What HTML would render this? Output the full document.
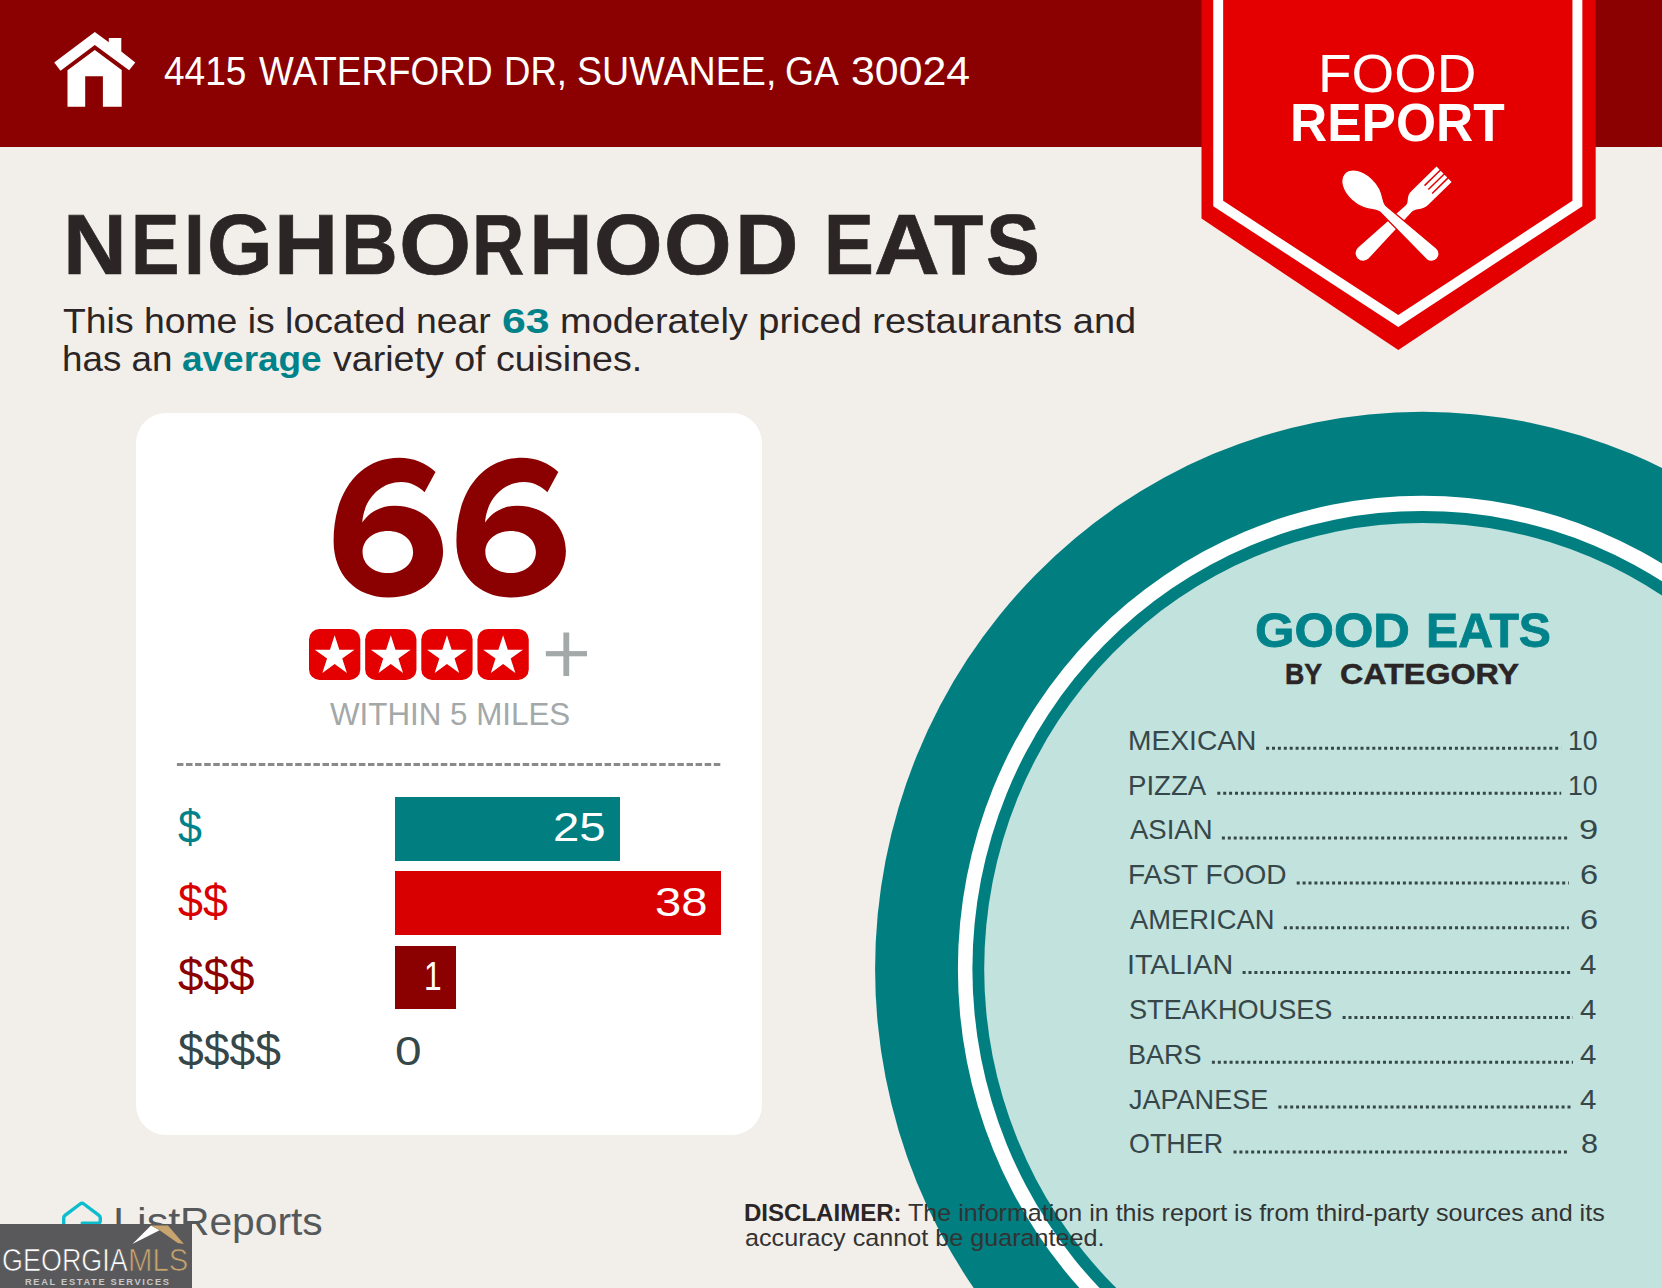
<!DOCTYPE html>
<html lang="en">
<head>
<meta charset="utf-8">
<title>Food Report - Neighborhood Eats</title>
<style>
  html, body { margin: 0; padding: 0; }
  body {
    width: 1662px; height: 1288px; overflow: hidden; position: relative;
    background: #f2eee9;
    font-family: "Liberation Sans", sans-serif;
    color: #2b2526;
  }
  .t { position: absolute; white-space: nowrap; line-height: 1; transform-origin: 0 0; }
  #header { position: absolute; left: 0; top: 0; width: 1662px; height: 146.8px; background: #8b0000; }
  #card { position: absolute; left: 135.8px; top: 413.4px; width: 626.6px; height: 721.5px; background: #fff; border-radius: 30px; }
  .bar { position: absolute; left: 395px; }
  svg { position: absolute; left: 0; top: 0; overflow: visible; }
  #mlsbox { position: absolute; left: 0; top: 1224.3px; width: 191.8px; height: 64px; background: #59595b; }
</style>
</head>
<body>
<!-- plate circles -->
<svg width="1662" height="1288" viewBox="0 0 1662 1288">
  <ellipse cx="1422.3" cy="968.9" rx="547.2" ry="557.2" fill="#007e80"/>
  <ellipse cx="1422.3" cy="968.9" rx="464.4" ry="473.2" fill="#ffffff"/>
  <ellipse cx="1422.3" cy="968.9" rx="449.9" ry="458" fill="#007e80"/>
  <ellipse cx="1422.3" cy="968.9" rx="438.1" ry="446" fill="#c1e2dd"/>
</svg>
<div id="header"></div>
<!-- house icon + badge -->
<svg width="1662" height="1288" viewBox="0 0 1662 1288">
  <g fill="#fff">
    <polygon points="94.8,32 108.8,42.2 108.8,37.9 121.3,37.9 121.3,51.5 135.3,62.6 129.1,70.3 94.8,44.9 60.5,70.7 54.2,62.6"/>
    <path d="M94.8,50 L121.7,69.9 L121.7,106.8 L102.9,106.8 L102.9,76.2 L85.2,76.2 L85.2,106.8 L67.5,106.8 L67.5,70.3 Z"/>
  </g>
  <polygon points="1201.5,0 1595.7,0 1595.7,218.5 1398.3,350 1201.5,218.5" fill="#e40000"/>
  <polyline points="1218.2,-6 1218.2,203.5 1398.3,321 1577.4,203.5 1577.4,-6" fill="none" stroke="#fff" stroke-width="9.9" stroke-linejoin="miter"/>
  <!-- fork -->
  <g transform="translate(1363.2,253.1) rotate(-44.3)">
    <path fill="#fff" d="M0,-7.6 L64,-4.4 C69,-4.6 70,-10.8 78,-10.8 L113,-10.8 L113,10.8 L80,10.8 C72,10.8 70,4.8 64,4.4 L0,7.6 A7.6,7.6 0 0 1 0,-7.6 Z"/>
    <g fill="#e40000"><rect x="91" y="-6.2" width="23" height="1.5"/><rect x="91" y="-0.75" width="23" height="1.5"/><rect x="91" y="4.7" width="23" height="1.5"/></g>
  </g>
  <!-- spoon -->
  <g transform="translate(1431.5,253.9) rotate(-137.2)">
    <path fill="#fff" stroke="#e40000" stroke-width="1.3" d="M0,-7.6 L66,-4.4 C73,-4.6 77,-14.8 95,-14.8 C109,-14.8 118.5,-8 118.5,0 C118.5,8 109,14.8 95,14.8 C77,14.8 73,4.6 66,4.4 L0,7.6 A7.6,7.6 0 0 1 0,-7.6 Z"/>
  </g>
</svg>
<div id="card"></div>
<!-- big 66 -->
<svg width="1662" height="1288" viewBox="0 0 1662 1288">
  <defs>
    <path id="six" fill-rule="evenodd" d="M745,190 C690,135 610,105 530,105 C300,105 140,300 140,600 C140,800 270,935 465,935 C660,935 790,810 790,660 C790,510 670,390 500,390 C420,390 350,430 310,490 C320,350 420,250 540,250 C600,250 650,280 680,310 Z M462,540 C380,540 312,590 312,665 C312,740 380,790 462,790 C545,790 612,740 612,665 C612,590 545,540 462,540 Z"/>
  </defs>
  <g transform="translate(310,440) scale(0.16846)" fill="#8b0000" role="img" aria-label="66"><title>66</title>
    <use href="#six"/>
    <use href="#six" x="729"/>
  </g>
</svg>
<div id="score" class="t" style="left:330px;top:430px;font-size:190px;font-weight:bold;color:transparent;">66</div>
<!-- stars + plus + dashed line -->
<svg width="1662" height="1288" viewBox="0 0 1662 1288">
  <defs>
    <g id="st">
      <rect x="0" y="0" width="51.3" height="50.9" rx="10.5" ry="10.5" fill="#e40000"/>
      <polygon fill="#fff" transform="translate(25.65,27.1)" points="0.00,-20.90 4.69,-6.46 19.88,-6.46 7.59,2.47 12.28,16.91 0.00,7.98 -12.28,16.91 -7.59,2.47 -19.88,-6.46 -4.69,-6.46"/>
    </g>
  </defs>
  <use href="#st" x="309" y="629"/>
  <use href="#st" x="365.15" y="629"/>
  <use href="#st" x="421.3" y="629"/>
  <use href="#st" x="477.45" y="629"/>
  <rect x="545.8" y="651.1" width="41.2" height="5.2" fill="#a3a8a8"/>
  <rect x="563.4" y="632.5" width="5.8" height="43.5" fill="#a3a8a8"/>
  <line x1="176.9" y1="764.5" x2="721.3" y2="764.5" stroke="#8a8a8a" stroke-width="2.9" stroke-dasharray="6.5,2.6"/>
</svg>
<div class="bar" style="top:796.8px;width:225.2px;height:63.8px;background:#007e80"></div>
<div class="bar" style="top:871.3px;width:326.3px;height:63.6px;background:#d80000"></div>
<div class="bar" style="top:945.6px;width:61.4px;height:63.4px;background:#8b0000"></div>
<svg width="1662" height="1288" viewBox="0 0 1662 1288"><g stroke="#36474a" stroke-width="3" stroke-dasharray="3 2.9" fill="none">
<line x1="1266.1" y1="748.3" x2="1561.2" y2="748.3"/>
<line x1="1217.3" y1="793.2" x2="1561.2" y2="793.2"/>
<line x1="1221.9" y1="838.0" x2="1568.9" y2="838.0"/>
<line x1="1296.7" y1="882.9" x2="1568.9" y2="882.9"/>
<line x1="1283.9" y1="927.7" x2="1568.9" y2="927.7"/>
<line x1="1242.6" y1="972.6" x2="1573.0" y2="972.6"/>
<line x1="1342.6" y1="1017.4" x2="1573.0" y2="1017.4"/>
<line x1="1211.9" y1="1062.2" x2="1573.0" y2="1062.2"/>
<line x1="1278.4" y1="1107.1" x2="1573.0" y2="1107.1"/>
<line x1="1233.5" y1="1152.0" x2="1568.9" y2="1152.0"/>
</g></svg>
<div id="address"><span class="t" style="left:163.5px;top:51.2px;font-size:40.7px;color:#fff;transform:scaleX(0.9102);">4415</span>
<span class="t" style="left:259.4px;top:51.2px;font-size:40.7px;color:#fff;transform:scaleX(0.9066);">WATERFORD</span>
<span class="t" style="left:503.7px;top:51.2px;font-size:40.7px;color:#fff;transform:scaleX(0.8984);">DR,</span>
<span class="t" style="left:576.8px;top:51.2px;font-size:40.7px;color:#fff;transform:scaleX(0.9252);">SUWANEE,</span>
<span class="t" style="left:785.0px;top:51.2px;font-size:40.7px;color:#fff;transform:scaleX(0.9158);">GA</span>
<span class="t" style="left:850.8px;top:51.2px;font-size:40.7px;color:#fff;transform:scaleX(1.0527);">30024</span></div>
<div id="title"><span class="t" style="left:63.1px;top:200.9px;font-size:86.05px;font-weight:bold;color:#2b2526;transform:scaleX(1.0269);-webkit-text-stroke:0.7px #2b2526;">N</span><span class="t" style="left:130.6px;top:200.9px;font-size:86.05px;font-weight:bold;color:#2b2526;transform:scaleX(0.8449);-webkit-text-stroke:0.7px #2b2526;">E</span><span class="t" style="left:184.0px;top:200.9px;font-size:86.05px;font-weight:bold;color:#2b2526;transform:scaleX(0.8714);-webkit-text-stroke:0.7px #2b2526;">I</span><span class="t" style="left:207.3px;top:200.9px;font-size:86.05px;font-weight:bold;color:#2b2526;transform:scaleX(0.9814);-webkit-text-stroke:0.7px #2b2526;">G</span><span class="t" style="left:273.5px;top:200.9px;font-size:86.05px;font-weight:bold;color:#2b2526;transform:scaleX(1.0327);-webkit-text-stroke:0.7px #2b2526;">H</span><span class="t" style="left:341.2px;top:200.9px;font-size:86.05px;font-weight:bold;color:#2b2526;transform:scaleX(0.9130);-webkit-text-stroke:0.7px #2b2526;">B</span><span class="t" style="left:399.0px;top:200.9px;font-size:86.05px;font-weight:bold;color:#2b2526;transform:scaleX(1.0787);-webkit-text-stroke:0.7px #2b2526;">O</span><span class="t" style="left:471.7px;top:200.9px;font-size:86.05px;font-weight:bold;color:#2b2526;transform:scaleX(0.8411);-webkit-text-stroke:0.7px #2b2526;">R</span><span class="t" style="left:529.3px;top:200.9px;font-size:86.05px;font-weight:bold;color:#2b2526;transform:scaleX(1.0269);-webkit-text-stroke:0.7px #2b2526;">H</span><span class="t" style="left:594.2px;top:200.9px;font-size:86.05px;font-weight:bold;color:#2b2526;transform:scaleX(1.0246);-webkit-text-stroke:0.7px #2b2526;">O</span><span class="t" style="left:664.3px;top:200.9px;font-size:86.05px;font-weight:bold;color:#2b2526;transform:scaleX(1.0098);-webkit-text-stroke:0.7px #2b2526;">O</span><span class="t" style="left:734.7px;top:200.9px;font-size:86.05px;font-weight:bold;color:#2b2526;transform:scaleX(1.0204);-webkit-text-stroke:0.7px #2b2526;">D</span> <span class="t" style="left:824.0px;top:200.9px;font-size:86.05px;font-weight:bold;color:#2b2526;transform:scaleX(0.8673);-webkit-text-stroke:0.7px #2b2526;">E</span><span class="t" style="left:874.2px;top:200.9px;font-size:86.05px;font-weight:bold;color:#2b2526;transform:scaleX(1.0586);-webkit-text-stroke:0.7px #2b2526;">A</span><span class="t" style="left:934.2px;top:200.9px;font-size:86.05px;font-weight:bold;color:#2b2526;transform:scaleX(0.9373);-webkit-text-stroke:0.7px #2b2526;">T</span><span class="t" style="left:985.9px;top:200.9px;font-size:86.05px;font-weight:bold;color:#2b2526;transform:scaleX(0.9385);-webkit-text-stroke:0.7px #2b2526;">S</span></div>
<div id="subtitle"><span class="t" style="left:63.3px;top:303.6px;font-size:34.88px;color:#2b2526;transform:scaleX(1.0709);">This home is located near</span>
<span class="t" style="left:501.9px;top:303.6px;font-size:34.88px;font-weight:bold;color:#00828a;transform:scaleX(1.2243);">63</span>
<span class="t" style="left:559.6px;top:303.6px;font-size:34.88px;color:#2b2526;transform:scaleX(1.0886);">moderately priced restaurants and</span>
<span class="t" style="left:62.3px;top:341.9px;font-size:34.88px;color:#2b2526;transform:scaleX(1.0540);">has an</span>
<span class="t" style="left:182.2px;top:341.9px;font-size:34.88px;font-weight:bold;color:#00828a;transform:scaleX(1.0592);">average</span>
<span class="t" style="left:332.6px;top:341.9px;font-size:34.88px;color:#2b2526;transform:scaleX(1.0778);">variety of cuisines.</span></div>
<div id="within"><span class="t" style="left:329.8px;top:698.8px;font-size:31.83px;color:#a3a8a8;transform:scaleX(0.9844);">WITHIN 5 MILES</span></div>
<div id="badge-text"><span class="t" style="left:1318.1px;top:46.6px;font-size:53.78px;color:#fff;transform:scaleX(1.0201);">FOOD</span>
<span class="t" style="left:1290.4px;top:97.3px;font-size:52.76px;font-weight:bold;color:#fff;transform:scaleX(0.9764);">REPORT</span></div>
<div id="plate-heading"><span class="t" style="left:1255.4px;top:606.4px;font-size:48.55px;font-weight:bold;color:#00828a;transform:scaleX(1.0448);-webkit-text-stroke:0.8px #00828a;">GOOD</span>
<span class="t" style="left:1425.6px;top:606.4px;font-size:48.55px;font-weight:bold;color:#00828a;transform:scaleX(0.9934);-webkit-text-stroke:0.8px #00828a;">EATS</span>
<span class="t" style="left:1284.8px;top:658.8px;font-size:29.94px;font-weight:bold;color:#2b2526;transform:scaleX(0.8923);-webkit-text-stroke:0.5px #2b2526;">BY</span>
<span class="t" style="left:1340.2px;top:658.8px;font-size:29.94px;font-weight:bold;color:#2b2526;transform:scaleX(1.0770);-webkit-text-stroke:0.5px #2b2526;">CATEGORY</span></div>
<div id="v25"><span class="t" style="left:552.6px;top:807.1px;font-size:40.99px;color:#fff;transform:scaleX(1.1548);">25</span></div>
<div id="v38"><span class="t" style="left:654.6px;top:881.7px;font-size:40.99px;color:#fff;transform:scaleX(1.1524);">38</span></div>
<div id="v1"><span class="t" style="left:424.2px;top:955.9px;font-size:40.99px;color:#fff;transform:scaleX(0.7722);">1</span></div>
<div id="v0"><span class="t" style="left:394.7px;top:1029.6px;font-size:41.57px;color:#36474a;transform:scaleX(1.1500);">0</span></div>
<div id="cat0"><span class="t" style="left:1127.9px;top:726.7px;font-size:28.05px;color:#36474a;transform:scaleX(1.0048);">MEXICAN</span>
<span class="t" style="left:1567.5px;top:726.7px;font-size:28.05px;color:#36474a;transform:scaleX(0.9500);">10</span></div>
<div id="cat1"><span class="t" style="left:1127.9px;top:771.6px;font-size:28.05px;color:#36474a;transform:scaleX(0.9844);">PIZZA</span>
<span class="t" style="left:1567.5px;top:771.6px;font-size:28.05px;color:#36474a;transform:scaleX(0.9500);">10</span></div>
<div id="cat2"><span class="t" style="left:1129.9px;top:816.4px;font-size:28.05px;color:#36474a;transform:scaleX(0.9805);">ASIAN</span>
<span class="t" style="left:1578.8px;top:816.4px;font-size:28.05px;color:#36474a;transform:scaleX(1.2308);">9</span></div>
<div id="cat3"><span class="t" style="left:1127.9px;top:861.2px;font-size:28.05px;color:#36474a;transform:scaleX(1.0013);">FAST FOOD</span>
<span class="t" style="left:1579.7px;top:861.2px;font-size:28.05px;color:#36474a;transform:scaleX(1.1615);">6</span></div>
<div id="cat4"><span class="t" style="left:1129.9px;top:906.1px;font-size:28.05px;color:#36474a;transform:scaleX(0.9753);">AMERICAN</span>
<span class="t" style="left:1579.7px;top:906.1px;font-size:28.05px;color:#36474a;transform:scaleX(1.1615);">6</span></div>
<div id="cat5"><span class="t" style="left:1126.8px;top:951.0px;font-size:28.05px;color:#36474a;transform:scaleX(1.0212);">ITALIAN</span>
<span class="t" style="left:1580.2px;top:951.0px;font-size:28.05px;color:#36474a;transform:scaleX(1.0500);">4</span></div>
<div id="cat6"><span class="t" style="left:1128.9px;top:995.8px;font-size:28.05px;color:#36474a;transform:scaleX(0.9668);">STEAKHOUSES</span>
<span class="t" style="left:1580.2px;top:995.8px;font-size:28.05px;color:#36474a;transform:scaleX(1.0500);">4</span></div>
<div id="cat7"><span class="t" style="left:1128.0px;top:1040.7px;font-size:28.05px;color:#36474a;transform:scaleX(0.9644);">BARS</span>
<span class="t" style="left:1580.2px;top:1040.7px;font-size:28.05px;color:#36474a;transform:scaleX(1.0500);">4</span></div>
<div id="cat8"><span class="t" style="left:1128.9px;top:1085.5px;font-size:28.05px;color:#36474a;transform:scaleX(0.9641);">JAPANESE</span>
<span class="t" style="left:1580.2px;top:1085.5px;font-size:28.05px;color:#36474a;transform:scaleX(1.0500);">4</span></div>
<div id="cat9"><span class="t" style="left:1128.9px;top:1130.4px;font-size:28.05px;color:#36474a;transform:scaleX(0.9583);">OTHER</span>
<span class="t" style="left:1580.7px;top:1130.4px;font-size:28.05px;color:#36474a;transform:scaleX(1.0923);">8</span></div>
<div id="disclaimer"><span class="t" style="left:743.7px;top:1201.8px;font-size:23.26px;font-weight:bold;color:#2b2526;transform:scaleX(1.0338);">DISCLAIMER:</span>
<span class="t" style="left:908.3px;top:1201.8px;font-size:23.26px;color:#333;transform:scaleX(1.0783);">The information in this report is from third-party sources and its</span>
<span class="t" style="left:744.7px;top:1226.8px;font-size:23.26px;color:#333;transform:scaleX(1.0824);">accuracy cannot be guaranteed.</span></div>
<div id="listreports"><span class="t" style="left:113.4px;top:1202.7px;font-size:38.23px;color:#56595b;transform:scaleX(1.1321);">List</span><span class="t" style="left:180.0px;top:1202.7px;font-size:38.23px;color:#56595b;transform:scaleX(1.0662);">Reports</span></div>
<div class="t" style="left:177.9px;top:805.1px;font-size:45.49px;color:#00828a;transform:scaleX(0.9458);">$</div>
<div class="t" style="left:177.8px;top:879.2px;font-size:45.37px;color:#d80000;transform:scaleX(0.9878);">$$</div>
<div class="t" style="left:177.8px;top:953.1px;font-size:45.37px;color:#8b0000;transform:scaleX(1.0122);">$$$</div>
<div class="t" style="left:177.8px;top:1026.7px;font-size:46.10px;color:#36474a;transform:scaleX(1.0050);">$$$$</div>
<!-- ListReports icon -->
<svg width="1662" height="1288" viewBox="0 0 1662 1288">
  <path d="M63.7,1240 L63.7,1218 Q63.7,1216.4 65,1215.4 L80.1,1204 Q82,1202.6 83.9,1204 L99,1215.4 Q100.3,1216.4 100.3,1218 L100.3,1220.5 Q100.3,1223.1 97.7,1223.1 L82.2,1223.1" fill="none" stroke="#0cbdce" stroke-width="3.4" stroke-linecap="round" stroke-linejoin="round"/>
</svg>
<div id="mlsbox"></div>
<svg width="1662" height="1288" viewBox="0 0 1662 1288">
  <polygon points="132.4,1244.1 151,1225.6 159.6,1230.2" fill="#fff"/>
  <polygon points="151,1225.6 167.9,1225.6 183.9,1243.9 177.7,1242.9 159.6,1230.2" fill="#c8a46e"/>
</svg>
<div class="t" style="left:2.3px;top:1244.8px;font-size:31.97px;color:#fff;transform:scaleX(0.8429);-webkit-text-stroke:0.7px #59595b;">GEORGIA</div>
<div class="t" style="left:128.1px;top:1244.8px;font-size:31.97px;color:#c8a46e;transform:scaleX(0.9164);-webkit-text-stroke:0.7px #59595b;">MLS</div>
<div class="t" style="left:24.5px;top:1277.5px;font-size:8.73px;font-weight:bold;color:#c9c9ca;transform:scaleX(1.0642);letter-spacing:0.18em;">REAL ESTATE SERVICES</div>
</body>
</html>
